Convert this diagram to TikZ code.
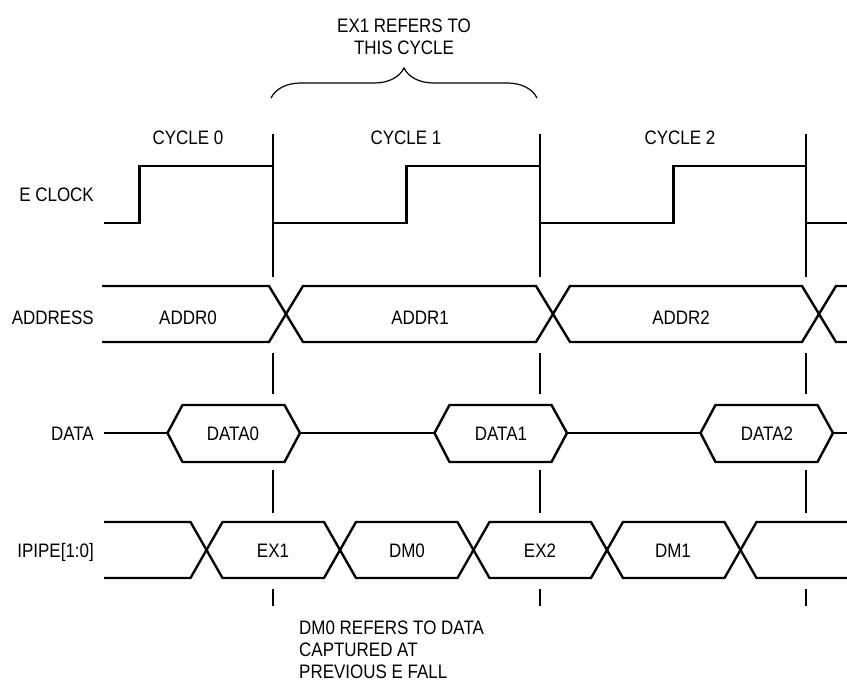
\documentclass[tikz,border=0pt]{standalone}
\usepackage{fontspec}
\setmainfont{Liberation Sans}[FakeStretch=0.87]
\usepackage{tikz}
\usetikzlibrary{decorations.pathreplacing}

\tikzset{
    sig/.style={line width=2.4pt, line join=miter},
    edgeline/.style={line width=1.6pt},
    lbl/.style={anchor=base, inner sep=0pt},
    rowname/.style={anchor=base east, inner sep=0pt},
}

\begin{document}
\begin{tikzpicture}[x=1pt, y=-1pt, font=\fontsize{19.5}{22}\selectfont]
    \useasboundingbox (0,0) rectangle (847,689);

    % falling edges of E
    \foreach \e in {273,540,806} {
        \draw[edgeline] (\e,134) -- (\e,277);
        \draw[edgeline] (\e,353) -- (\e,394);
        \draw[edgeline] (\e,470) -- (\e,513);
        \draw[edgeline] (\e,589) -- (\e,606);
    }

    % E clock
    \draw[sig] (104,223) -- (139.5,223) -- (139.5,166) -- (273,166) -- (273,223) -- (406.5,223) -- (406.5,166)
        -- (540,166) -- (540,223) -- (673.5,223) -- (673.5,166) -- (806,166) -- (806,223) -- (847,223);

    % address bus
    \draw[sig] (102,286) -- (269,286) -- (303,342) -- (536,342) -- (570,286) -- (802,286) -- (836,342) -- (847,342);
    \draw[sig] (102,342) -- (269,342) -- (303,286) -- (536,286) -- (570,342) -- (802,342) -- (836,286) -- (847,286);

    % data bus
    \foreach \e in {273,540,806}
        \draw[sig] (\e-105.5,433) -- (\e-90.5,405) -- (\e+11.5,405) -- (\e+27,433) -- (\e+11.5,462) -- (\e-90.5,462) -- cycle;
    \draw[sig] (104,433) -- (167.5,433);
    \draw[sig] (300,433) -- (434.5,433);
    \draw[sig] (567,433) -- (700.5,433);
    \draw[sig] (833,433) -- (847,433);

    % instruction pipe
    \draw[sig] (104,522) -- (190.5,522) -- (222.5,578) -- (324,578) -- (356,522) -- (457.5,522) -- (489.5,578)
        -- (591,578) -- (623,522) -- (724.5,522) -- (756.5,578) -- (847,578);
    \draw[sig] (104,578) -- (190.5,578) -- (222.5,522) -- (324,522) -- (356,578) -- (457.5,578) -- (489.5,522)
        -- (591,522) -- (623,578) -- (724.5,578) -- (756.5,522) -- (847,522);

    % row names
    \node[rowname] (eclk) at (94,201) {E CLOCK};
    \node[rowname] (addr) at (94,324) {ADDRESS};
    \node[rowname] (data) at (94,440) {DATA};
    \node[rowname] (ipipe) at (94,557) {IPIPE[1:0]};

    % cycle names
    \node[lbl] (cyc0) at (188,144) {CYCLE 0};
    \node[lbl] (cyc1) at (406,144) {CYCLE 1};
    \node[lbl] (cyc2) at (680,144) {CYCLE 2};

    % bus contents
    \node[lbl] (addr0) at (188,324) {ADDR0};
    \node[lbl] (addr1) at (420,324) {ADDR1};
    \node[lbl] (addr2) at (681,324) {ADDR2};
    \node[lbl] (data0) at (233,440) {DATA0};
    \node[lbl] (data1) at (501,440) {DATA1};
    \node[lbl] (data2) at (767,440) {DATA2};
    \node[lbl] (ex1) at (273,557) {EX1};
    \node[lbl] (dm0) at (407,557) {DM0};
    \node[lbl] (ex2) at (540,557) {EX2};
    \node[lbl] (dm1) at (673,557) {DM1};

    % notes
    \draw[line width=1.2pt, decorate, decoration={brace, amplitude=30pt}] (271,98) -- (537,98);
    \node[align=center, inner sep=0pt] (topnote) at (404,36.5) {EX1 REFERS TO\\THIS CYCLE};
    \node[align=left, anchor=north west, inner sep=0pt] (botnote) at (299,621) {DM0 REFERS TO DATA\\CAPTURED AT\\PREVIOUS E FALL};
\end{tikzpicture}
\end{document}
